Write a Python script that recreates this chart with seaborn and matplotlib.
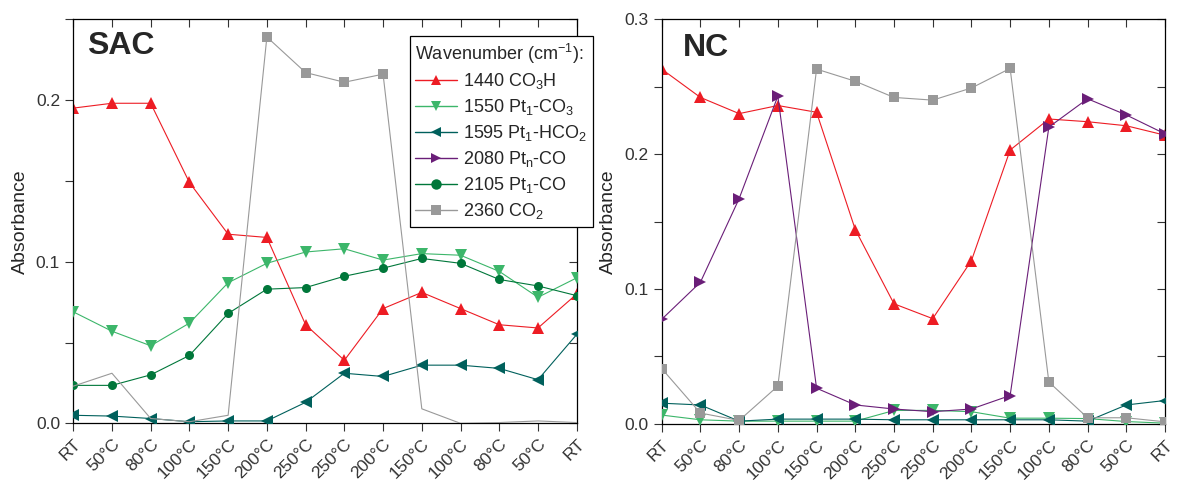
import numpy as np
import pandas as pd
import matplotlib.pyplot as plt
import seaborn as sns
from matplotlib.lines import Line2D
from matplotlib.ticker import MultipleLocator, FormatStrFormatter

# ==========================================
# 1. DADOS
# ==========================================
steps = ['RT', '50°C', '80°C', '100°C', '150°C', '200°C', '250°C',
         '250°C', '200°C', '150°C', '100°C', '80°C', '50°C', 'RT']

series_names = ['1440 CO$_3$H', '1550 Pt$_1$-CO$_3$', '1595 Pt$_1$-HCO$_2$',
                '2080 Pt$_n$-CO', '2105 Pt$_1$-CO', '2360 CO$_2$']

# SAC
sac_1440 = [0.195, 0.198, 0.198, 0.149, 0.117, 0.115, 0.061, 0.039, 0.071, 0.081, 0.071, 0.061, 0.059, 0.080]
sac_1550 = [0.069, 0.057, 0.048, 0.062, 0.087, 0.099, 0.106, 0.108, 0.101, 0.105, 0.104, 0.094, 0.078, 0.090]
sac_1595 = [0.005, 0.0045, 0.003, 0.001, 0.0015, 0.0015, 0.013, 0.031, 0.029, 0.036, 0.036, 0.034, 0.027, 0.055]
sac_2080 = [np.nan] * 14
sac_2105 = [0.0235, 0.0235, 0.030, 0.042, 0.068, 0.083, 0.084, 0.091, 0.096, 0.102, 0.099, 0.089, 0.085, 0.079]
sac_2360 = [0.023, 0.031, 0.003, 0.001, 0.005, 0.239, 0.217, 0.211, 0.216, 0.009, 0.0, 0.0005, 0.0015, 0.0005]

# NC
nc_1440 = [0.263, 0.242, 0.230, 0.236, 0.231, 0.144, 0.089, 0.078, 0.121, 0.203, 0.226, 0.224, 0.221, 0.214]
nc_1550 = [0.0065, 0.003, 0.002, 0.002, 0.002, 0.002, 0.0099, 0.010, 0.009, 0.0042, 0.0042, 0.0039, 0.0017, 0.0005]
nc_1595 = [0.0153, 0.014, 0.002, 0.0035, 0.0035, 0.0035, 0.003, 0.003, 0.003, 0.003, 0.003, 0.002, 0.014, 0.0173]
nc_2080 = [0.0775, 0.105, 0.167, 0.243, 0.0264, 0.014, 0.011, 0.009, 0.011, 0.021, 0.220, 0.241, 0.229, 0.215]
nc_2105 = [np.nan] * 14
nc_2360 = [0.041, 0.008, 0.0025, 0.028, 0.263, 0.254, 0.242, 0.240, 0.249, 0.2635, 0.031, 0.0045, 0.0045, 0.0015]

# ==========================================
# 2. ESTILO
# ==========================================
sns.set_theme(style='ticks')
plt.rcParams['font.family'] = ['Liberation Sans', 'DejaVu Sans']
plt.rcParams['mathtext.fontset'] = 'custom'
plt.rcParams['mathtext.rm'] = 'Liberation Sans'
plt.rcParams['mathtext.default'] = 'regular'

colors = ['#ED1C24', '#3CB66A', '#00605C', '#6A1E78', '#00773A', '#999999']
markers = ['^', 'v', '<', '>', 'o', 's']
msizes = [8, 8, 8, 8, 6.5, 6.5]

panels = {
    'SAC': [sac_1440, sac_1550, sac_1595, sac_2080, sac_2105, sac_2360],
    'NC': [nc_1440, nc_1550, nc_1595, nc_2080, nc_2105, nc_2360],
}

rows = []
for panel, values in panels.items():
    for name, vals in zip(series_names, values):
        for i, v in enumerate(vals):
            rows.append({'painel': panel, 'serie': name, 'passo': i, 'abs': v})
df = pd.DataFrame(rows)

# ==========================================
# 3. PLOTAGEM
# ==========================================
fig = plt.figure(figsize=(11.77, 4.8), dpi=100)
ax_sac = fig.add_axes([0.0622, 0.118, 0.4278, 0.842])
ax_nc = fig.add_axes([0.5622, 0.117, 0.4276, 0.843])

limits = {'SAC': 0.25, 'NC': 0.3}
title_pos = {'SAC': (0.028, 0.933), 'NC': (0.042, 0.928)}

for ax, panel in [(ax_sac, 'SAC'), (ax_nc, 'NC')]:
    sub = df[df['painel'] == panel]
    for k, name in enumerate(series_names):
        d = sub[sub['serie'] == name].dropna()
        if d.empty:
            continue
        kw = {}
        # no SAC o CO2 só mostra marcadores no patamar alto
        if panel == 'SAC' and k == 5:
            kw['markevery'] = [5, 6, 7, 8]
        sns.lineplot(data=d, x='passo', y='abs', ax=ax, color=colors[k],
                     marker=markers[k], markersize=msizes[k], markeredgewidth=0,
                     linewidth=0.8, sort=False, zorder=2 + k, legend=False, **kw)

    ax.set_xlim(0, 13)
    ax.set_ylim(0, limits[panel])
    ax.set_xticks(range(len(steps)))
    ax.set_xticklabels(steps, rotation=45, ha='right', rotation_mode='anchor')
    ax.yaxis.set_major_locator(MultipleLocator(0.1))
    ax.yaxis.set_minor_locator(MultipleLocator(0.05))
    ax.yaxis.set_major_formatter(FormatStrFormatter('%.1f'))
    ax.tick_params(axis='both', which='both', labelsize=12.5, colors='#333333',
                   length=5.5, width=0.8)
    ax.tick_params(axis='x', pad=4)
    ax.tick_params(axis='y', pad=4)
    ax.tick_params(axis='y', which='both', right=True, direction='out')
    ax.set_xlabel('')
    ax.set_ylabel('Absorbance', fontsize=14, labelpad=5)
    for sp in ax.spines.values():
        sp.set_color('black')
        sp.set_linewidth(0.9)
    ax.text(*title_pos[panel], panel, transform=ax.transAxes, fontsize=23,
            fontweight='bold', ha='left', va='center')

# ticks do topo e da direita para dentro
for ax in (ax_sac, ax_nc):
    ax.tick_params(axis='x', which='both', top=True, bottom=True)
    for t in ax.xaxis.get_major_ticks():
        t.tick2line.set_marker(3)  # TICKDOWN
    for t in ax.yaxis.get_major_ticks() + ax.yaxis.get_minor_ticks():
        t.tick2line.set_marker(0)  # TICKLEFT

handles = [Line2D([0], [0], color=c, marker=m, markersize=7.5, markeredgewidth=0,
                  linewidth=1.0, label=n)
           for c, m, n in zip(colors, markers, series_names)]
leg = ax_sac.legend(handles=handles, title='Wavenumber (cm$^{-1}$):',
                    loc='upper left', bbox_to_anchor=(0.3483, 0.925),
                    bbox_transform=fig.transFigure, borderaxespad=0,
                    fontsize=13, title_fontsize=13, alignment='left',
                    frameon=True, fancybox=False, framealpha=1, edgecolor='black',
                    borderpad=0.3, handlelength=2.3, handletextpad=0.35,
                    labelspacing=0.33)
leg.get_frame().set_linewidth(0.9)
leg.set_zorder(20)

plt.savefig('out.png', dpi=100)
plt.close()
